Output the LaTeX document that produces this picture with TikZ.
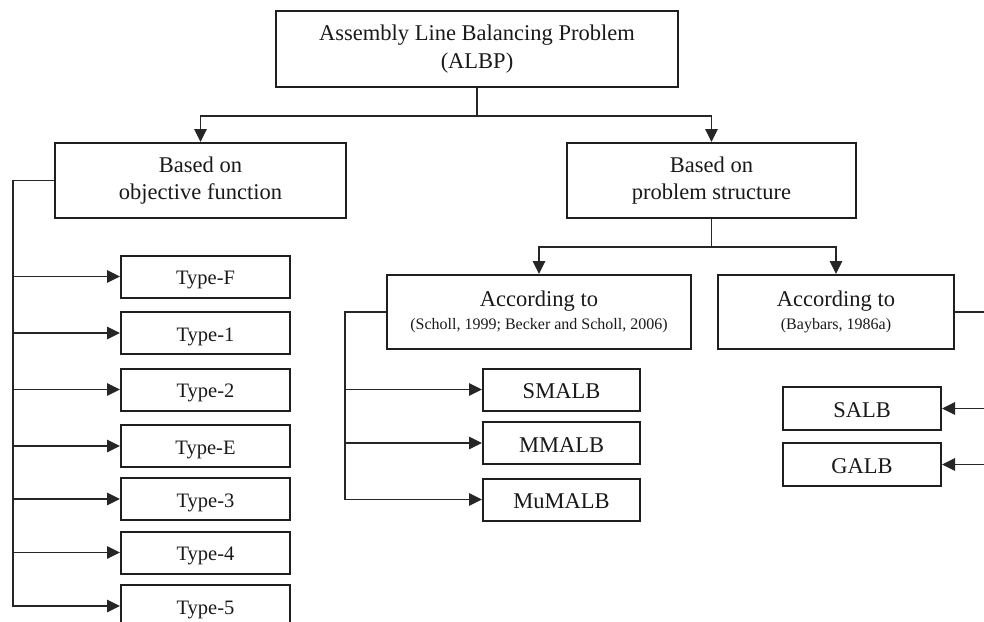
\documentclass[tikz,border=0pt]{standalone}
\usepackage{fontspec}
\setmainfont{Liberation Serif}
\usetikzlibrary{arrows.meta}

\tikzset{
  box/.style={draw=black!88, line width=2pt, rectangle, inner sep=0pt,
    align=center, text=black!90,
    font=\fontsize{22.5}{27.5}\selectfont},
  typebox/.style={box, text height=16.5pt, text depth=0pt,
    minimum width=169pt, minimum height=42pt,
    font=\fontsize{20.5}{24}\selectfont},
  subbox/.style={box, text height=18pt, text depth=0pt,
    minimum width=157pt, minimum height=42pt},
  link/.style={draw=black!85, line width=1.4pt},
  arr/.style={link, -{Triangle[length=13pt, width=12.5pt]}},
}

\begin{document}
\begin{tikzpicture}[x=1pt, y=-1pt]
  \useasboundingbox (0,0) rectangle (984,621);
  \clip (0,0) rectangle (984,621);

  % root and the two classification criteria
  \node[box, minimum width=402pt, minimum height=76pt] (albp) at (477,49)
    {Assembly Line Balancing Problem\\(ALBP)};
  \node[box, minimum width=291pt, minimum height=75pt] (obj) at (200.5,180.5)
    {Based on\\objective function};
  \node[box, minimum width=289pt, minimum height=75pt] (struct) at (711.5,180.5)
    {Based on\\problem structure};

  % problem types by objective
  \node[typebox] (tF) at (205.5,276.5) {Type-F};
  \node[typebox] (t1) at (205.5,333)   {Type-1};
  \node[typebox] (t2) at (205.5,389.5) {Type-2};
  \node[typebox] (tE) at (205.5,446)   {Type-E};
  \node[typebox] (t3) at (205.5,499)   {Type-3};
  \node[typebox] (t4) at (205.5,552.5) {Type-4};
  \node[typebox] (t5) at (205.5,606)   {Type-5};

  % structure-based sources
  \node[box, minimum width=304pt, minimum height=74pt] (scholl) at (539,312)
    {According to\\[-5pt]{\fontsize{16}{19}\selectfont (Scholl, 1999; Becker and Scholl, 2006)}};
  \node[box, minimum width=236pt, minimum height=74pt] (baybars) at (836,312)
    {According to\\[-5pt]{\fontsize{16}{19}\selectfont (Baybars, 1986a)}};

  \node[subbox] (smalb)  at (561.5,389.5) {SMALB};
  \node[subbox] (mmalb)  at (561.5,443)   {MMALB};
  \node[subbox] (mumalb) at (561.5,499.5) {MuMALB};

  \node[subbox, minimum width=158pt, minimum height=43pt] (salb) at (862,408.5) {SALB};
  \node[subbox, minimum width=158pt, minimum height=43pt] (galb) at (862,464.5) {GALB};

  % root split
  \draw[link] (albp.south) -- ++(0,28) coordinate (rootj);
  \draw[arr] (rootj) -| (obj.north);
  \draw[arr] (rootj) -| (struct.north);

  % structure split
  \draw[link] (struct.south) -- ++(0,28) coordinate (structj);
  \draw[arr] (structj) -| (scholl.north);
  \draw[arr] (structj) -| (baybars.north);

  % objective-function bus
  \foreach \t in {tF,t1,t2,tE,t3,t4,t5}
    \draw[arr] (obj.west) -- ++(-41,0) |- (\t.west);

  % Scholl bus
  \foreach \t in {smalb,mmalb,mumalb}
    \draw[arr] (scholl.west) -- ++(-41,0) |- (\t.west);

  % Baybars bus (runs along the right margin)
  \foreach \t in {salb,galb}
    \draw[arr] (baybars.east) -- ++(50,0) |- (\t.east);
\end{tikzpicture}
\end{document}
